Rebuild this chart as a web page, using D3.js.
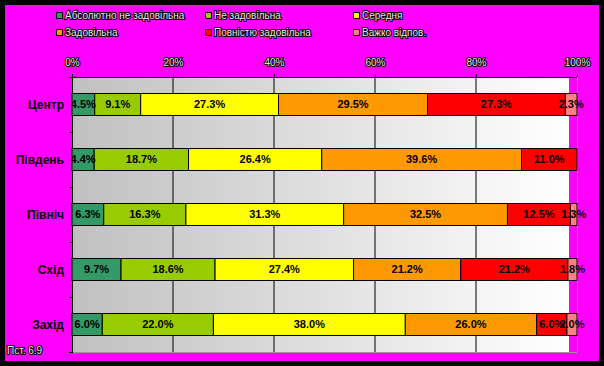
<!DOCTYPE html>
<html><head><meta charset="utf-8">
<script src="https://cdn.jsdelivr.net/npm/d3@7"></script>
<style>
html,body{margin:0;padding:0;background:#000;}
svg{display:block;}
.lt{font-family:"Liberation Sans",Arial,sans-serif;font-size:10px;fill:#e8e8e8;stroke:#000;stroke-width:2px;paint-order:stroke;}
</style>
</head><body>
<script>
const categories = ["Центр","Південь","Північ","Схід","Захід"];
const seriesNames = ["Абсолютно не задовільна","Не задовільна","Середня","Задовільна","Повністю задовільна","Важко відпов."];
const absNe   = [4.5, 4.4, 6.3, 9.7, 6.0];
const ne      = [9.1, 18.7, 16.3, 18.6, 22.0];
const serednya= [27.3, 26.4, 31.3, 27.4, 38.0];
const zad     = [29.5, 39.6, 32.5, 21.2, 26.0];
const povn    = [27.3, 11.0, 12.5, 21.2, 6.0];
const vazhko  = [2.3, 0, 1.3, 1.8, 2.0];
const tickLabels = ["0%","20%","40%","60%","80%","100%"];
const colors = ["#339966","#99cc00","#ffff00","#ff9900","#ff0000","#ff8080"];
const note = "Пст. 6.9";

const W=604,H=366;
const svg=d3.select("body").append("svg").attr("width",W).attr("height",H);
svg.append("rect").attr("width",W).attr("height",H).attr("fill","#000");
svg.append("rect").attr("x",5).attr("y",5).attr("width",594).attr("height",356).attr("fill","#ff00ff");

const L=72,R=577,T=77,B=352;
const x=d3.scaleLinear().domain([0,1]).range([L,R]);
const y=d3.scaleBand().domain(categories).range([T,B]).paddingInner(0.6).paddingOuter(0.3);

const defs=svg.append("defs");
const g=defs.append("linearGradient").attr("id","bg").attr("x1","0").attr("x2","1").attr("y1","0").attr("y2","0");
g.append("stop").attr("offset","0").attr("stop-color","#c0c0c0");
g.append("stop").attr("offset","1").attr("stop-color","#ffffff");
svg.append("rect").attr("x",L).attr("y",T).attr("width",569-L).attr("height",B-T).attr("fill","url(#bg)");

// gridlines
svg.append("g").selectAll("line").data([0.2,0.4,0.6,0.8]).join("line")
  .attr("x1",d=>x(d)).attr("x2",d=>x(d)).attr("y1",T).attr("y2",B).attr("stroke","#000");

// borders
svg.append("line").attr("x1",L).attr("x2",R).attr("y1",T+0.5).attr("y2",T+0.5).attr("stroke","#000");
svg.append("line").attr("x1",L).attr("x2",R).attr("y1",B+0.5).attr("y2",B+0.5).attr("stroke","#999");
svg.append("line").attr("x1",R+0.5).attr("x2",R+0.5).attr("y1",T).attr("y2",B).attr("stroke","#999");

// top axis
const ax=svg.append("g").attr("transform",`translate(0,${T})`)
  .call(d3.axisTop(x).tickValues([0,0.2,0.4,0.6,0.8,1]).tickFormat((d,i)=>tickLabels[i]).tickSize(3).tickSizeOuter(0));
ax.select(".domain").remove();
ax.selectAll(".tick line").attr("stroke","#000");
ax.selectAll(".tick text").attr("class","lt").attr("y",-14).attr("dy","0.32em");

// left axis
svg.append("line").attr("x1",L+0.5).attr("x2",L+0.5).attr("y1",T-3).attr("y2",B+1).attr("stroke","#000");
const bandStep=(B-T)/categories.length;
svg.append("g").selectAll("line").data(d3.range(categories.length+1)).join("line")
  .attr("x1",L-3).attr("x2",L).attr("y1",d=>Math.round(T+d*bandStep)+0.5).attr("y2",d=>Math.round(T+d*bandStep)+0.5).attr("stroke","#000");

svg.append("g").selectAll("text").data(categories).join("text")
  .attr("x",64).attr("y",d=>y(d)+y.bandwidth()/2).attr("dy","0.35em").attr("text-anchor","end")
  .style("font-family","Liberation Sans, Arial, sans-serif").style("font-size","12px").style("font-weight","bold")
  .text(d=>d);

const series=[absNe,ne,serednya,zad,povn,vazhko];
const rows=categories.map((c,i)=>{
  const vals=series.map(s=>s[i]);
  const tot=d3.sum(vals);
  let acc=0;
  return vals.map((v,k)=>{const s={cat:c,k,v,x0:acc/tot,x1:(acc+v)/tot};acc+=v;return s;});
}).flat().filter(d=>d.v>0);

svg.append("g").selectAll("rect").data(rows).join("rect")
  .attr("x",d=>x(d.x0)).attr("width",d=>x(d.x1)-x(d.x0))
  .attr("y",d=>y(d.cat)).attr("height",y.bandwidth())
  .attr("fill",d=>colors[d.k]).attr("stroke","#000").attr("stroke-width",1);

svg.append("g").selectAll("text").data(rows).join("text")
  .attr("x",d=>(x(d.x0)+x(d.x1))/2).attr("y",d=>y(d.cat)+y.bandwidth()/2).attr("dy","0.35em")
  .attr("text-anchor","middle")
  .style("font-family","Liberation Sans, Arial, sans-serif").style("font-size","11px").style("font-weight","bold")
  .text(d=>d.v.toFixed(1)+"%");

// legend
const legX=[56,205,353], legY=[15,32];
const lg=svg.append("g").selectAll("g").data(seriesNames).join("g")
  .attr("transform",(d,i)=>`translate(${legX[i%3]},${legY[Math.floor(i/3)]})`);
lg.append("rect").attr("x",0.5).attr("y",-2.5).attr("width",6).attr("height",6).attr("fill",(d,i)=>colors[i]).attr("stroke","#000");
lg.append("text").attr("class","lt").attr("x",9).attr("dy","0.35em").text(d=>d);

svg.append("text").attr("class","lt").attr("x",7).attr("y",350).attr("dy","0.35em").text(note);
</script>
</body></html>
